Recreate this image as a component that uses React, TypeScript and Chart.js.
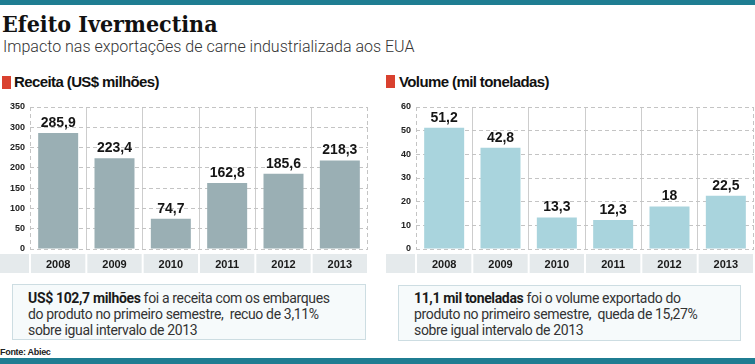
import React, { useEffect, useRef } from "react";
import { Chart, registerables } from "chart.js";
Chart.register(...registerables);

const years = ["2008", "2009", "2010", "2011", "2012", "2013"];
const receita = [285.9, 223.4, 74.7, 162.8, 185.6, 218.3];
const volume = [51.2, 42.8, 13.3, 12.3, 18, 22.5];
const receitaMax = 350;
const receitaStep = 50;
const volumeMax = 60;
const volumeStep = 10;

const BAND = "#e5eaec";
const GRID = "#c4c4c4";
const VGRID = "#cdcdcd";
const TEAL = "#1f7d92";
const RED = "#d9412f";

const fmt = (v: number) => String(v).replace(".", ",");

const decorPlugin = {
  id: "decor",
  beforeDraw(chart: any) {
    const { ctx, chartArea, scales } = chart;
    const x = scales.x;
    const labels: string[] = chart.data.labels;
    const top = chartArea.bottom + 5;
    const h = 19;
    const step = x.getPixelForValue(1) - x.getPixelForValue(0);
    ctx.save();
    ctx.fillStyle = BAND;
    ctx.fillRect(0, top, chartArea.left - 1, h);
    labels.forEach((_, i) => {
      const c = x.getPixelForValue(i);
      ctx.fillRect(c - step / 2 + 1, top, step - 2, h);
    });
    ctx.fillStyle = "#1a1a1a";
    ctx.font = 'bold 11px "Liberation Sans", Arial, sans-serif';
    ctx.textAlign = "center";
    ctx.textBaseline = "middle";
    labels.forEach((l, i) => {
      ctx.fillText(l, x.getPixelForValue(i), top + h / 2 + 1);
    });
    ctx.restore();
  },
  beforeDatasetsDraw(chart: any) {
    const { ctx, chartArea } = chart;
    ctx.save();
    ctx.strokeStyle = GRID;
    ctx.lineWidth = 1;
    ctx.setLineDash([4, 3]);
    [chartArea.left + 0.5, chartArea.right - 0.5].forEach((xx: number) => {
      ctx.beginPath();
      ctx.moveTo(xx, chartArea.top);
      ctx.lineTo(xx, chartArea.bottom);
      ctx.stroke();
    });
    ctx.restore();
  },
  afterDatasetsDraw(chart: any) {
    const { ctx } = chart;
    const meta = chart.getDatasetMeta(0);
    const values: number[] = chart.data.datasets[0].data;
    ctx.save();
    ctx.fillStyle = "#151515";
    ctx.font = 'bold 14px "Liberation Sans", Arial, sans-serif';
    ctx.textAlign = "center";
    ctx.textBaseline = "bottom";
    meta.data.forEach((bar: any, i: number) => {
      ctx.fillText(fmt(values[i]), bar.x, bar.y - 3);
    });
    ctx.restore();
  },
};

function BarChart(props: {
  values: number[];
  max: number;
  step: number;
  color: string;
  width: number;
  height: number;
  padRight: number;
}) {
  const ref = useRef<HTMLCanvasElement>(null);
  useEffect(() => {
    if (!ref.current) return;
    const chart = new Chart(ref.current, {
      type: "bar",
      data: {
        labels: years,
        datasets: [
          {
            data: props.values,
            backgroundColor: props.color,
            categoryPercentage: 1,
            barPercentage: 0.71,
          },
        ],
      },
      options: {
        responsive: false,
        animation: false,
        devicePixelRatio: 1,
        layout: { padding: { top: 12, bottom: 31, left: 0, right: props.padRight } },
        plugins: { legend: { display: false }, tooltip: { enabled: false } },
        scales: {
          x: {
            ticks: { display: false },
            grid: {
              offset: true,
              drawTicks: false,
              color: (c: any) => (c.type === "tick" && c.index > 0 ? VGRID : "transparent"),
            },
            border: { display: false },
          },
          y: {
            min: 0,
            max: props.max,
            ticks: {
              stepSize: props.step,
              padding: 5,
              color: "#222",
              font: { family: '"Liberation Sans", Arial, sans-serif', weight: "bold", size: 9 },
            },
            grid: { color: GRID, drawTicks: false, lineWidth: 1 },
            border: { display: false, dash: [4, 3] },
            afterFit: (s: any) => {
              s.width = 30;
            },
          },
        },
      },
      plugins: [decorPlugin],
    } as any);
    return () => chart.destroy();
  }, []);
  return <canvas ref={ref} width={props.width} height={props.height} style={{ display: "block" }} />;
}

const abs = (l: number, t: number, extra: any = {}) => ({ position: "absolute", left: l, top: t, ...extra } as any);

export default function App() {
  const boxText = {
    fontFamily: "Roboto, 'Open Sans', sans-serif",
    fontSize: 14,
    letterSpacing: "-0.35px",
    lineHeight: "16px",
    color: "#333",
    whiteSpace: "nowrap",
  } as any;
  const header = {
    fontFamily: "'Liberation Sans', Arial, sans-serif",
    fontWeight: "bold",
    fontSize: 15,
    letterSpacing: "-0.6px",
    lineHeight: "18px",
    color: "#111",
    whiteSpace: "nowrap",
  } as any;
  return (
    <div style={abs(0, 0, { width: 755, height: 364, background: "#fff", overflow: "hidden" })}>
      <div style={abs(0, 0, { width: 755, height: 5, background: TEAL })} />
      <div
        style={abs(2, 10, {
          fontFamily: "'DejaVu Serif Condensed', 'DejaVu Serif', serif",
          fontWeight: "bold",
          fontStretch: "condensed",
          fontSize: 23,
          lineHeight: "28px",
          color: "#111",
          whiteSpace: "nowrap",
        })}
      >
        Efeito Ivermectina
      </div>
      <div
        style={abs(3, 36, {
          fontFamily: "Roboto, sans-serif",
          fontWeight: 300,
          fontSize: 16,
          lineHeight: "21px",
          color: "#333",
          whiteSpace: "nowrap",
        })}
      >
        Impacto nas exportações de carne industrializada aos EUA
      </div>

      <div style={abs(2, 76, { width: 9, height: 13, background: RED })} />
      <div style={abs(14, 73, header)}>Receita (US$ milhões)</div>
      <div style={abs(386, 75, { width: 9, height: 13, background: RED })} />
      <div style={abs(399, 73, header)}>Volume (mil toneladas)</div>

      <div style={abs(0, 95)}>
        <BarChart values={receita} max={receitaMax} step={receitaStep} color="#9aafb4" width={372} height={185} padRight={4} />
      </div>
      <div style={abs(386, 95)}>
        <BarChart values={volume} max={volumeMax} step={volumeStep} color="#a9d4dd" width={369} height={185} padRight={1} />
      </div>

      <div
        style={abs(12, 284, {
          width: 354,
          height: 56,
          boxSizing: "border-box",
          border: "1px solid #cddde2",
          background: "#f6fafb",
        })}
      />
      <div style={abs(28, 290, boxText)}>
        <b style={{ color: "#1a1a1a" }}>US$ 102,7 milhões</b> foi a receita com os embarques
        <br />
        do produto no primeiro semestre,&nbsp; recuo de 3,11%
        <br />
        sobre igual intervalo de 2013
      </div>

      <div
        style={abs(398, 285, {
          width: 343,
          height: 56,
          boxSizing: "border-box",
          border: "1px solid #cddde2",
          background: "#f6fafb",
        })}
      />
      <div style={abs(414, 290, boxText)}>
        <b style={{ color: "#1a1a1a" }}>11,1 mil toneladas</b> foi o volume exportado do
        <br />
        produto no primeiro semestre,&nbsp; queda de 15,27%
        <br />
        sobre igual intervalo de 2013
      </div>

      <div
        style={abs(0, 347, {
          fontFamily: "'Liberation Sans', Arial, sans-serif",
          fontWeight: "bold",
          fontSize: 9,
          letterSpacing: "-0.3px",
          lineHeight: "11px",
          color: "#222",
        })}
      >
        Fonte: Abiec
      </div>
      <div style={abs(0, 358, { width: 755, height: 6, background: TEAL })} />
    </div>
  );
}
